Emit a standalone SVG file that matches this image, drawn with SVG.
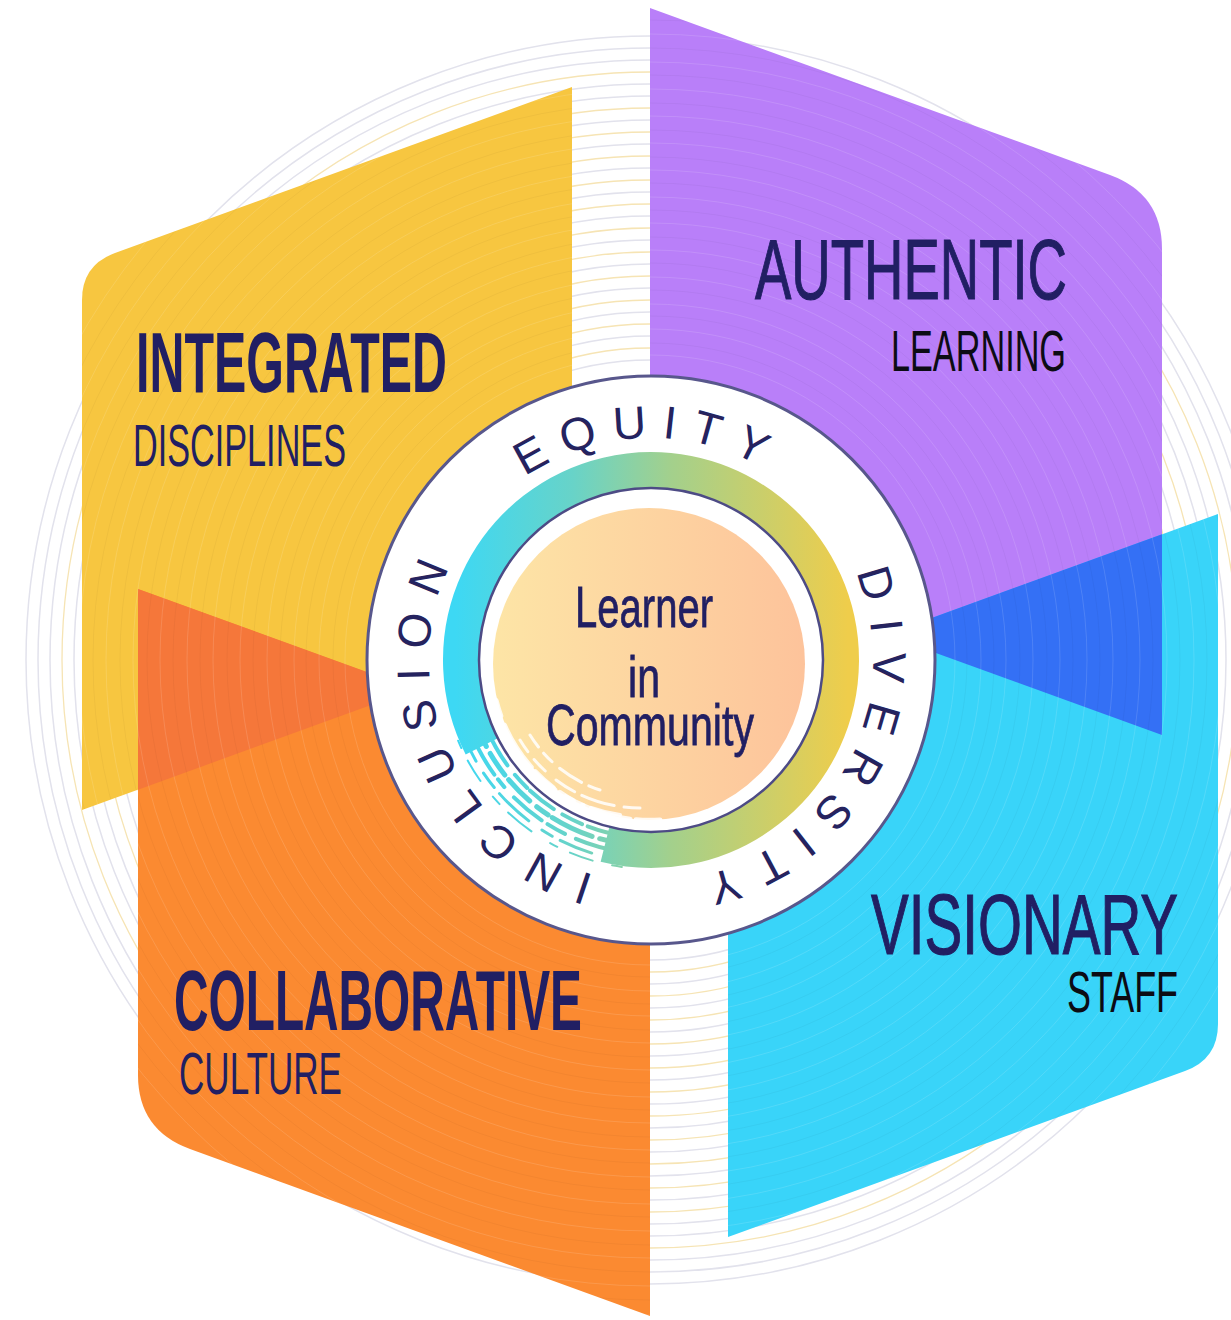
<svg xmlns="http://www.w3.org/2000/svg" width="1231" height="1320" viewBox="0 0 1231 1320">
<defs>
<style>
.bg1{fill:none;stroke:#e2e2ec;stroke-width:1.5}
.bg2{fill:none;stroke:#f6e4b4;stroke-width:1.3}
.tx1{fill:none;stroke:#ffffff;stroke-width:1;opacity:0.13}
.tx2{fill:none;stroke:#000000;stroke-width:1;opacity:0.035}
.t{font-family:"Liberation Sans Narrow","Liberation Sans",Arial,sans-serif}
.navy{fill:#211f63}
.blk{fill:#0c0c14}
.hb{font-weight:700}
.hr{font-weight:400;stroke:#211f63;stroke-width:1.2}
.sr{font-weight:400}
.ring{font-family:"Liberation Sans Narrow","Liberation Sans",Arial,sans-serif;font-size:46px;fill:#25235f}
.ctr{font-family:"Liberation Sans Narrow","Liberation Sans",Arial,sans-serif;fill:#211f63;stroke:#211f63;stroke-width:0.8;text-anchor:middle}
.streak{fill:none;stroke:url(#ringG);stroke-linecap:round}
.wst{fill:none;stroke:#ffffff;stroke-linecap:round;opacity:0.85}
</style>
<linearGradient id="ringG" gradientUnits="userSpaceOnUse" x1="455" y1="0" x2="848" y2="0">
<stop offset="0" stop-color="#3dd8f4"/>
<stop offset="0.3" stop-color="#68d3c8"/>
<stop offset="0.55" stop-color="#a3d08c"/>
<stop offset="1" stop-color="#efcd4b"/>
</linearGradient>
<linearGradient id="peachG" x1="0" y1="0" x2="1" y2="0">
<stop offset="0" stop-color="#fde5a6"/>
<stop offset="1" stop-color="#fdc39b"/>
</linearGradient>
<path id="ringPath" d="M651,882 A222,222 0 1 1 651,438 A222,222 0 1 1 651,882"/>
<clipPath id="panelClip">
<path d="M82,300 Q82,265 115,253 L572,87 L572,632 L82,810 Z"/>
<path d="M138,589 L650,775 L650,1316 L190,1149 Q138,1130 138,1075 Z"/>
<path d="M1162,735 L650,549 L650,8 L1110,175 Q1162,194 1162,249 Z"/>
<path d="M1218,1024 Q1218,1059 1185,1071 L728,1237 L728,692 L1218,514 Z"/>
</clipPath>
</defs>

<rect width="1231" height="1320" fill="#ffffff"/>

<g id="background-swirl">
<circle class="bg1" cx="650" cy="660" r="300"/>
<circle class="bg2" cx="650" cy="660" r="312"/>
<circle class="bg1" cx="650" cy="660" r="324"/>
<circle class="bg2" cx="650" cy="660" r="336"/>
<circle class="bg1" cx="650" cy="660" r="348"/>
<circle class="bg2" cx="650" cy="660" r="360"/>
<circle class="bg1" cx="650" cy="660" r="372"/>
<circle class="bg2" cx="650" cy="660" r="384"/>
<circle class="bg1" cx="650" cy="660" r="396"/>
<circle class="bg2" cx="650" cy="660" r="408"/>
<circle class="bg1" cx="650" cy="660" r="420"/>
<circle class="bg2" cx="650" cy="660" r="432"/>
<circle class="bg1" cx="650" cy="660" r="444"/>
<circle class="bg2" cx="650" cy="660" r="456"/>
<circle class="bg1" cx="650" cy="660" r="468"/>
<circle class="bg2" cx="650" cy="660" r="480"/>
<circle class="bg1" cx="650" cy="660" r="492"/>
<circle class="bg2" cx="650" cy="660" r="504"/>
<circle class="bg1" cx="650" cy="660" r="516"/>
<circle class="bg2" cx="650" cy="660" r="528"/>
<circle class="bg1" cx="650" cy="660" r="540"/>
<circle class="bg2" cx="650" cy="660" r="552"/>
<circle class="bg1" cx="650" cy="660" r="564"/>
<circle class="bg1" cx="650" cy="660" r="576"/>
<circle class="bg2" cx="650" cy="660" r="588"/>
<circle class="bg1" cx="650" cy="660" r="600"/>
<circle class="bg1" cx="650" cy="660" r="612"/>
<circle class="bg1" cx="650" cy="660" r="624"/>
</g>

<g id="integrated">
<path d="M82,300 Q82,265 115,253 L572,87 L572,632 L82,810 Z" fill="#f7c640"/>
</g>

<g id="collaborative">
<path d="M138,589 L650,775 L650,1316 L190,1149 Q138,1130 138,1075 Z" fill="#fb8a31"/>
<path d="M138,589 L414.4,689.3 L138,789.7 Z" fill="#f5773a"/>
</g>

<g id="authentic">
<path d="M1162,735 L650,549 L650,8 L1110,175 Q1162,194 1162,249 Z" fill="#b97ff9"/>
</g>

<g id="visionary">
<path d="M1218,1024 Q1218,1059 1185,1071 L728,1237 L728,692 L1218,514 Z" fill="#39d4f9"/>
<path d="M1162,534.3 L885.6,634.7 L1162,735 Z" fill="#3470f5"/>
</g>

<g id="panel-texture" clip-path="url(#panelClip)">
<circle class="tx1" cx="650" cy="660" r="305"/>
<circle class="tx2" cx="650" cy="660" r="317"/>
<circle class="tx1" cx="650" cy="660" r="331"/>
<circle class="tx2" cx="650" cy="660" r="344"/>
<circle class="tx1" cx="650" cy="660" r="356"/>
<circle class="tx2" cx="650" cy="660" r="370"/>
<circle class="tx1" cx="650" cy="660" r="383"/>
<circle class="tx2" cx="650" cy="660" r="397"/>
<circle class="tx1" cx="650" cy="660" r="410"/>
<circle class="tx2" cx="650" cy="660" r="423"/>
<circle class="tx1" cx="650" cy="660" r="437"/>
<circle class="tx2" cx="650" cy="660" r="450"/>
<circle class="tx1" cx="650" cy="660" r="463"/>
<circle class="tx2" cx="650" cy="660" r="477"/>
<circle class="tx1" cx="650" cy="660" r="490"/>
<circle class="tx2" cx="650" cy="660" r="503"/>
<circle class="tx1" cx="650" cy="660" r="517"/>
<circle class="tx2" cx="650" cy="660" r="530"/>
<circle class="tx1" cx="650" cy="660" r="544"/>
<circle class="tx2" cx="650" cy="660" r="557"/>
<circle class="tx1" cx="650" cy="660" r="571"/>
<circle class="tx2" cx="650" cy="660" r="585"/>
<circle class="tx1" cx="650" cy="660" r="598"/>
<circle class="tx2" cx="650" cy="660" r="612"/>
<circle class="tx1" cx="650" cy="660" r="626"/>
<circle class="tx2" cx="650" cy="660" r="640"/>
<circle class="tx1" cx="650" cy="660" r="655"/>
</g>

<g id="labels">
<text class="t navy hb" x="136" y="392" font-size="86" textLength="311" lengthAdjust="spacingAndGlyphs">INTEGRATED</text>
<text class="t navy sr" x="133" y="466" font-size="59" textLength="213" lengthAdjust="spacingAndGlyphs">DISCIPLINES</text>
<text class="t navy hb" x="174" y="1030" font-size="86" textLength="408" lengthAdjust="spacingAndGlyphs">COLLABORATIVE</text>
<text class="t navy sr" x="179" y="1094" font-size="60" textLength="163" lengthAdjust="spacingAndGlyphs">CULTURE</text>
<text class="t navy hr" x="755" y="299" font-size="86" textLength="312" lengthAdjust="spacingAndGlyphs">AUTHENTIC</text>
<text class="t blk sr" x="891" y="371" font-size="57" textLength="175" lengthAdjust="spacingAndGlyphs">LEARNING</text>
<text class="t navy hr" x="871" y="954" font-size="85" textLength="307" lengthAdjust="spacingAndGlyphs">VISIONARY</text>
<text class="t blk sr" x="1067" y="1012" font-size="58" textLength="111" lengthAdjust="spacingAndGlyphs">STAFF</text>
</g>

<g id="center">
<circle cx="651" cy="660" r="284" fill="#ffffff" stroke="#58578c" stroke-width="3"/>
<text class="ring" letter-spacing="17"><textPath href="#ringPath" startOffset="259" text-anchor="middle">INCLUSION</textPath></text>
<text class="ring" letter-spacing="15"><textPath href="#ringPath" startOffset="694" text-anchor="middle">EQUITY</textPath></text>
<text class="ring" letter-spacing="17.5"><textPath href="#ringPath" startOffset="1156" text-anchor="middle">DIVERSITY</textPath></text>

<path d="M481.7,746.3 A190,190 0 1 1 605,844.4" fill="none" stroke="url(#ringG)" stroke-width="36"/>
<path class="streak" d="M626.3,836.3 A178,178 0 0 1 483.7,720.9" stroke-width="4" stroke-dasharray="40 6 22 10 30 4 18 12"/>
<path class="streak" d="M625.1,844.1 A186,186 0 0 1 476.2,723.6" stroke-width="5" stroke-dasharray="26 8 44 5 14 9 30 6"/>
<path class="streak" d="M624.0,852.1 A194,194 0 0 1 468.6,726.3" stroke-width="4" stroke-dasharray="50 12 20 7 36 14 10 6"/>
<path class="streak" d="M622.9,860.0 A202,202 0 0 1 461.1,729.1" stroke-width="3" stroke-dasharray="18 14 34 9 12 16 40 8"/>
<path class="streak" d="M621.9,866.9 A209,209 0 0 1 454.5,731.5" stroke-width="2" stroke-dasharray="10 20 24 14 8 22 30 12"/>

<circle cx="651" cy="660" r="172" fill="#ffffff" stroke="#4d4b85" stroke-width="2.5"/>
<circle cx="649" cy="664" r="156" fill="url(#peachG)"/>
<path class="wst" d="M620,815 A150,150 0 0 1 505,730" stroke-width="4" stroke-dasharray="30 8 20 12 40 6"/>
<path class="wst" d="M640,808 A140,140 0 0 1 520,740" stroke-width="3" stroke-dasharray="16 10 34 8 22 14"/>
<path class="wst" d="M600,790 A130,130 0 0 1 530,735" stroke-width="3" stroke-dasharray="12 8 26 10"/>
<path class="wst" d="M660,820 A158,158 0 0 1 496,700" stroke-width="5" stroke-dasharray="24 6 50 10 16 8"/>

<text class="ctr" x="644" y="627" font-size="58" textLength="138" lengthAdjust="spacingAndGlyphs">Learner</text>
<text class="ctr" x="644" y="697" font-size="58" textLength="32" lengthAdjust="spacingAndGlyphs">in</text>
<text class="ctr" x="650" y="745" font-size="58" textLength="208" lengthAdjust="spacingAndGlyphs">Community</text>
</g>
</svg>
